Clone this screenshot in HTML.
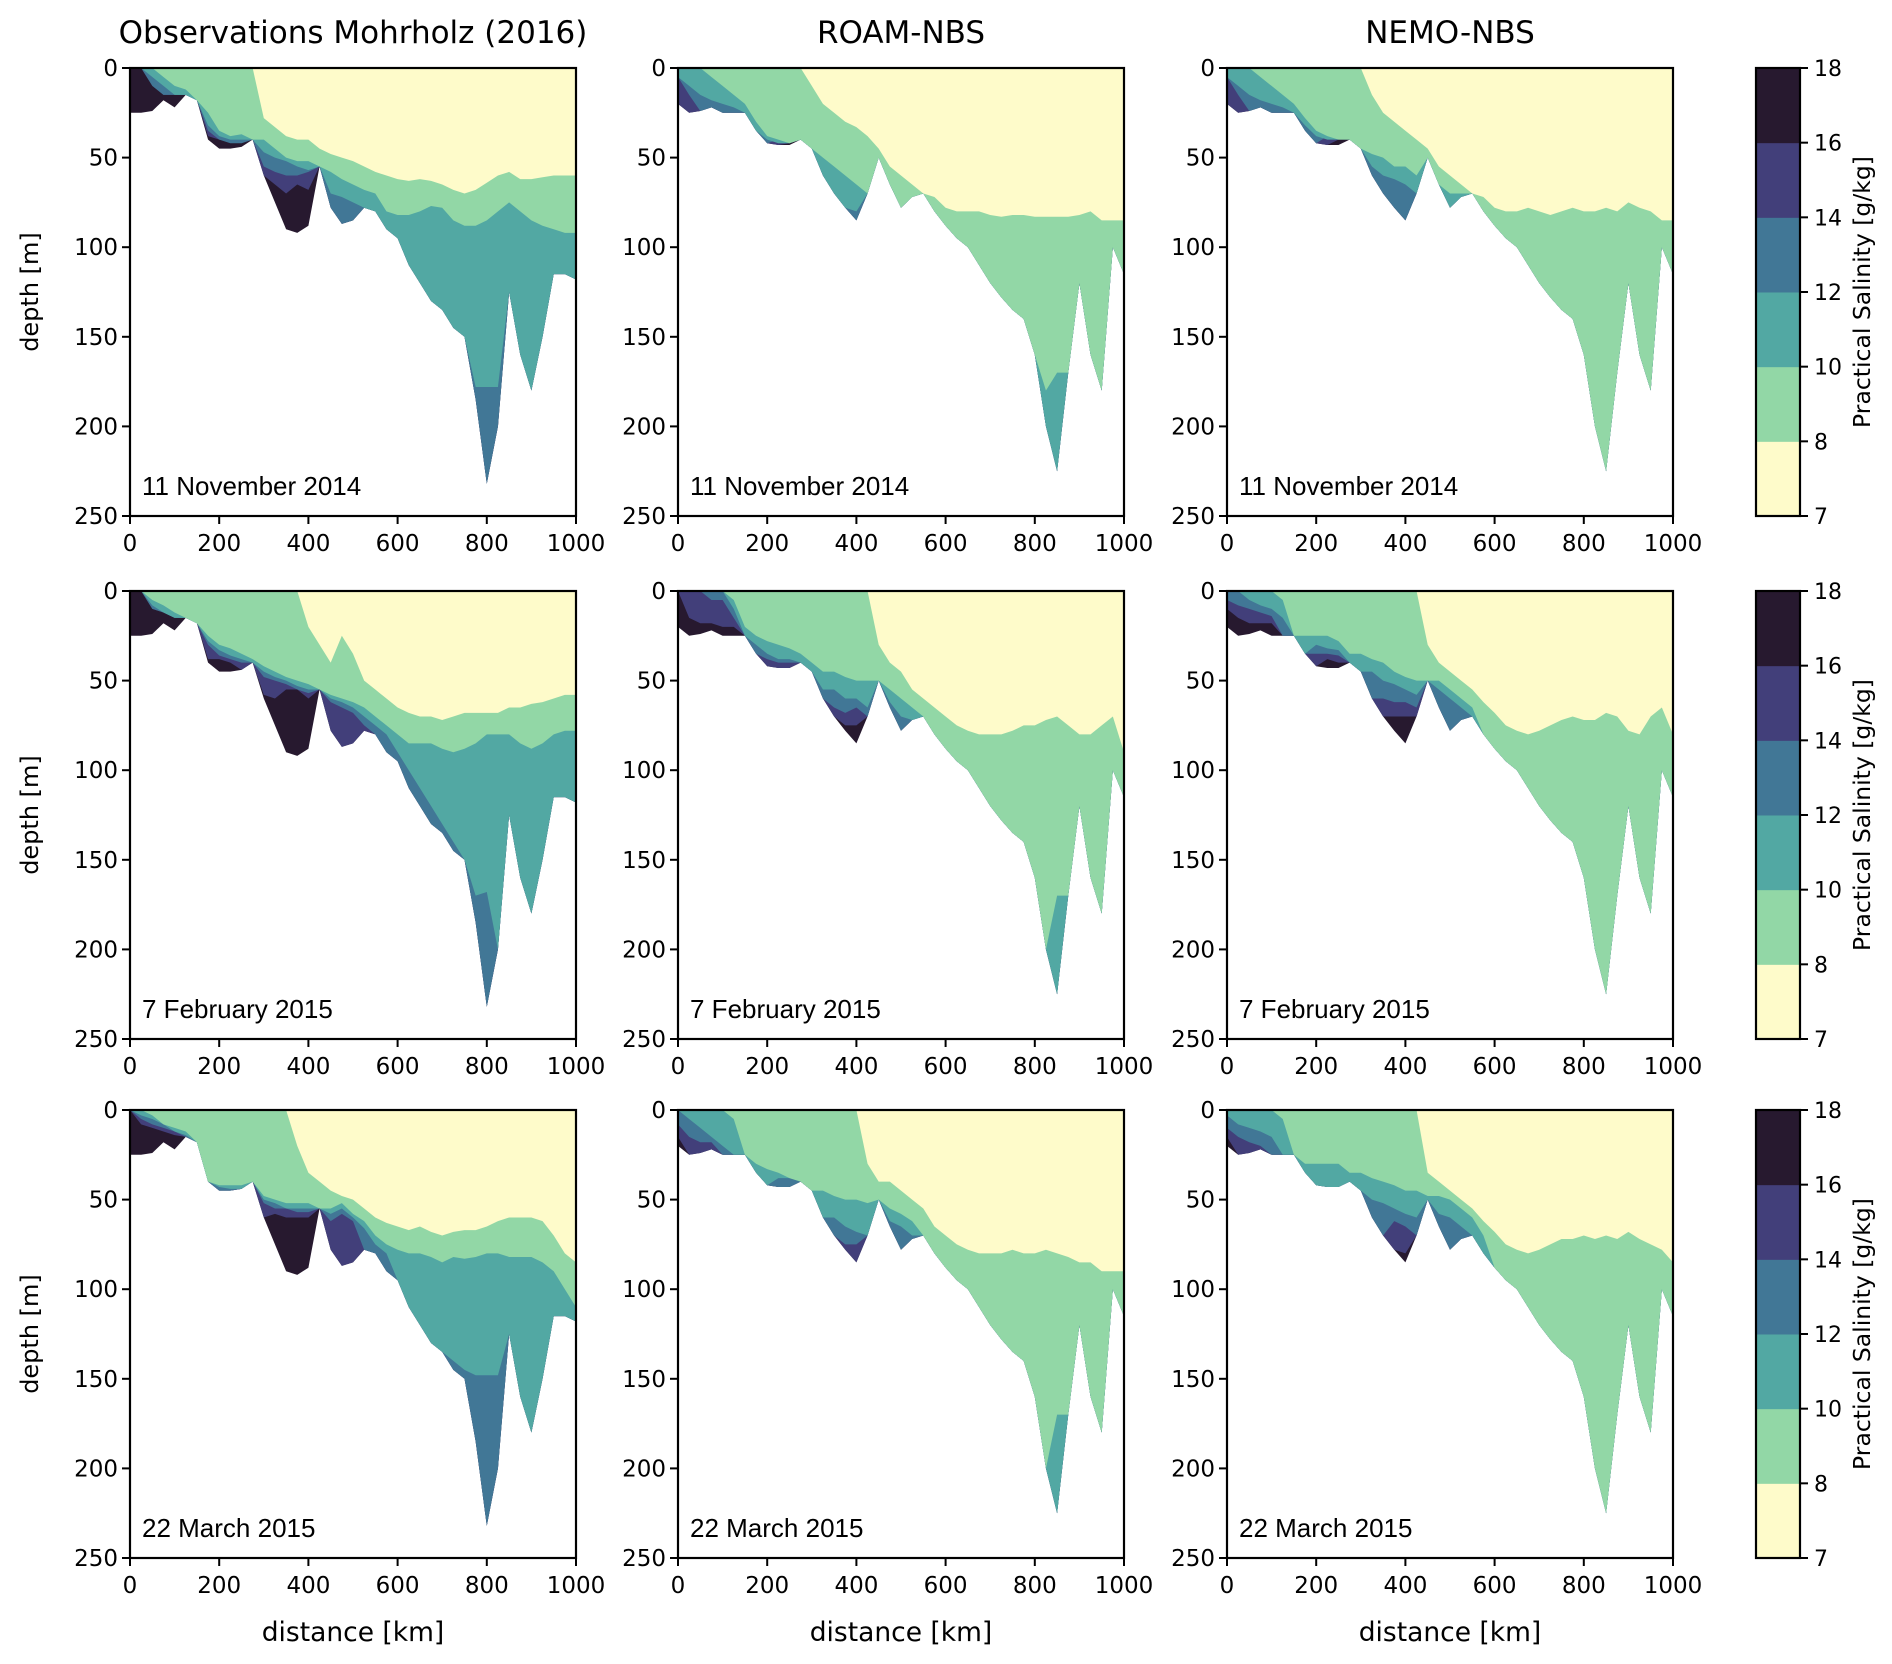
<!DOCTYPE html>
<html><head><meta charset="utf-8"><style>
html,body{margin:0;padding:0;background:#fff}
svg{display:block;font-family:"DejaVu Sans","Liberation Sans",sans-serif}
</style></head><body>
<svg id="fig" width="1892" height="1664" viewBox="0 0 1892 1664" xmlns="http://www.w3.org/2000/svg"></svg>
<script>
const distances=[0,25,50,75,100,125,150,175,200,225,250,275,300,325,350,375,400,425,450,475,500,525,550,575,600,625,650,675,700,725,750,775,800,825,850,875,900,925,950,975,1000];
const levels=[7,8,10,12,14,16,18];
const colors=["#fefbca","#92d7a6","#52a8a3","#417796","#423f7a","#27192f"];
const dates=["11 November 2014","7 February 2015","22 March 2015"];
const titles=["Observations Mohrholz (2016)","ROAM-NBS","NEMO-NBS"];
const yTicks=[0,50,100,150,200,250];
const xTicks=[0,200,400,600,800,1000];
const N=999;
const bottomObs=[25,25,24,18,22,15,18,40,45,45,44,40,60,75,90,92,88,55,78,87,85,78,80,90,95,110,120,130,135,145,150,185,232,200,125,160,180,150,115,115,118];
const bottomModel=[20,25,24,22,25,25,25,35,42,43,43,40,45,60,70,78,85,70,50,65,78,72,70,80,88,95,100,110,120,128,135,140,160,200,225,170,120,160,180,100,115];
const obsNov=[
[0,0,0,0,0,0,0,0,0,0,0,0,28,33,38,40,40,45,48,50,52,55,58,60,62,63,62,63,65,68,70,68,64,60,58,62,62,61,60,60,60],
[0,0,0,5,10,12,20,25,35,38,37,40,40,45,50,52,52,55,58,62,65,68,70,80,82,82,80,77,78,85,88,88,85,80,75,80,85,88,90,92,92],
[0,0,5,10,15,15,25,32,38,40,40,40,47,50,52,55,57,60,70,72,75,80,85,N,N,N,N,N,N,N,N,178,178,178,N,N,N,N,N,N,N],
[0,0,10,15,15,15,28,35,40,42,42,42,55,58,60,60,58,65,N,N,N,N,N,N,N,N,N,N,N,N,N,N,N,N,N,N,N,N,N,N,N],
[0,0,10,15,15,15,N,38,40,40,40,40,62,65,70,65,68,N,N,N,N,N,N,N,N,N,N,N,N,N,N,N,N,N,N,N,N,N,N,N,N]];
const roamNov=[
[0,0,0,0,0,0,0,0,0,0,0,0,10,20,25,30,33,38,45,55,60,65,70,72,78,80,80,80,82,83,82,82,83,83,83,83,82,80,85,85,85],
[0,0,0,5,10,15,20,30,38,40,42,45,48,50,55,60,65,70,N,N,N,N,N,N,N,N,N,N,N,N,N,N,N,180,170,N,N,N,N,N,N],
[5,10,15,18,20,22,25,35,40,42,42,N,N,N,N,N,80,N,N,N,N,N,N,N,N,N,N,N,N,N,N,N,N,N,N,N,N,N,N,N,N],
[5,15,N,N,N,N,N,N,N,40,40,N,N,N,N,N,N,N,N,N,N,N,N,N,N,N,N,N,N,N,N,N,N,N,N,N,N,N,N,N,N],
[N,N,N,N,N,N,N,N,N,N,42,N,N,N,N,N,N,N,N,N,N,N,N,N,N,N,N,N,N,N,N,N,N,N,N,N,N,N,N,N,N]];
const nemoNov=[
[0,0,0,0,0,0,0,0,0,0,0,0,0,15,25,30,35,40,45,55,60,65,70,72,78,80,80,78,80,82,80,78,80,80,78,80,75,78,80,85,85],
[0,0,0,5,10,15,20,28,35,38,40,42,45,48,50,55,55,60,62,65,70,70,N,N,N,N,N,N,N,N,N,N,N,N,N,N,N,N,N,N,N],
[5,10,15,18,20,22,25,32,38,40,40,42,N,55,60,62,65,70,N,N,N,N,N,N,N,N,N,N,N,N,N,N,N,N,N,N,N,N,N,N,N],
[5,15,N,N,N,N,N,N,N,38,38,40,N,N,N,N,N,N,N,N,N,N,N,N,N,N,N,N,N,N,N,N,N,N,N,N,N,N,N,N,N],
[N,N,N,N,N,N,N,N,N,N,40,N,N,N,N,N,N,N,N,N,N,N,N,N,N,N,N,N,N,N,N,N,N,N,N,N,N,N,N,N,N]];
const obsFeb=[
[0,0,0,0,0,0,0,0,0,0,0,0,0,0,0,0,20,30,40,25,35,50,55,60,65,68,70,70,72,70,68,68,68,68,65,65,63,62,60,58,58],
[0,0,5,8,12,15,20,25,30,32,35,38,42,45,48,50,52,55,58,60,62,65,70,75,80,85,85,85,88,90,88,85,80,80,80,85,88,85,80,78,78],
[0,0,8,12,15,18,22,28,33,36,38,42,45,48,50,53,55,58,60,62,65,70,75,80,90,100,110,120,130,140,160,170,168,N,N,N,N,N,N,N,N],
[0,0,10,12,15,20,25,30,36,38,40,45,48,50,52,55,57,60,62,65,68,75,N,N,N,N,N,N,N,N,N,N,N,N,N,N,N,N,N,N,N],
[0,0,10,12,15,N,N,38,38,40,N,N,58,60,55,55,60,N,N,N,N,N,N,N,N,N,N,N,N,N,N,N,N,N,N,N,N,N,N,N,N]];
const roamFeb=[
[0,0,0,0,0,0,0,0,0,0,0,0,0,0,0,0,0,0,30,40,45,55,60,65,70,75,78,80,80,80,78,75,75,72,70,75,80,80,75,70,90],
[0,0,0,0,0,5,20,25,28,30,32,35,40,45,45,48,50,50,55,55,60,65,70,N,N,N,N,N,N,N,N,N,N,N,170,N,N,N,N,N,N],
[0,0,0,0,0,10,25,30,35,38,38,40,N,55,55,60,60,65,70,62,70,75,80,N,N,N,N,N,N,N,N,N,N,N,N,N,N,N,N,N,N],
[0,0,0,5,5,15,N,N,38,40,40,N,N,N,65,68,65,75,N,N,N,N,N,N,N,N,N,N,N,N,N,N,N,N,N,N,N,N,N,N,N],
[0,15,18,18,20,20,N,N,N,N,N,N,N,N,N,75,75,N,N,N,N,N,N,N,N,N,N,N,N,N,N,N,N,N,N,N,N,N,N,N,N]];
const nemoFeb=[
[0,0,0,0,0,0,0,0,0,0,0,0,0,0,0,0,0,0,30,40,45,50,55,62,68,75,78,80,78,75,72,70,72,72,68,70,78,80,70,65,80],
[0,0,0,0,0,5,25,25,25,25,28,35,35,38,40,45,48,50,52,50,55,60,65,N,N,N,N,N,N,N,N,N,N,N,N,N,N,N,N,N,N],
[0,0,5,8,10,15,N,N,30,32,33,N,N,45,50,52,55,58,60,55,60,65,70,N,N,N,N,N,N,N,N,N,N,N,N,N,N,N,N,N,N],
[5,8,10,12,14,N,N,N,35,35,36,N,N,N,60,62,62,65,N,N,N,N,N,N,N,N,N,N,N,N,N,N,N,N,N,N,N,N,N,N,N],
[10,15,18,18,18,N,N,N,N,38,40,N,N,N,N,70,70,80,N,N,N,N,N,N,N,N,N,N,N,N,N,N,N,N,N,N,N,N,N,N,N]];
const obsMar=[
[0,0,0,0,0,0,0,0,0,0,0,0,0,0,0,20,35,40,45,48,50,55,60,63,65,67,65,68,70,68,67,67,65,62,60,60,60,62,70,80,85],
[0,0,3,8,10,12,40,42,42,42,42,42,48,50,52,52,52,55,55,52,58,62,70,75,78,80,80,82,85,82,83,82,80,80,82,82,82,85,90,100,110],
[0,3,5,8,12,14,N,N,43,44,44,46,50,52,55,55,55,57,58,55,60,66,75,80,95,110,125,130,135,140,145,148,148,148,N,N,N,N,N,N,N],
[0,5,8,10,12,15,N,N,N,N,N,N,52,55,55,57,57,60,62,58,62,N,N,N,N,N,N,N,N,N,N,N,N,N,N,N,N,N,N,N,N],
[0,8,10,12,14,N,N,N,N,N,N,N,N,58,60,60,60,N,N,N,N,N,N,N,N,N,N,N,N,N,N,N,N,N,N,N,N,N,N,N,N]];
const roamMar=[
[0,0,0,0,0,0,0,0,0,0,0,0,0,0,0,0,0,30,40,40,45,50,55,65,70,75,78,80,80,80,78,80,80,78,80,82,85,85,90,90,90],
[0,0,0,0,0,5,25,30,33,35,38,40,45,45,48,50,50,52,50,55,58,62,70,N,N,N,N,N,N,N,N,N,N,N,170,N,N,N,N,N,N],
[0,5,10,15,20,N,N,N,N,38,38,40,N,N,60,65,68,70,N,62,65,70,80,N,N,N,N,N,N,N,N,N,N,N,N,N,N,N,N,N,N],
[8,15,18,18,N,N,N,N,N,N,N,N,N,N,N,75,75,N,N,N,N,N,N,N,N,N,N,N,N,N,N,N,N,N,N,N,N,N,N,N,N],
[15,N,N,N,N,N,N,N,N,N,N,N,N,N,N,N,85,N,N,N,N,N,N,N,N,N,N,N,N,N,N,N,N,N,N,N,N,N,N,N,N]];
const nemoMar=[
[0,0,0,0,0,0,0,0,0,0,0,0,0,0,0,0,0,0,35,40,45,50,55,62,68,75,78,80,78,75,72,72,70,72,70,72,68,72,75,78,85],
[0,0,0,0,0,5,25,30,30,30,30,35,35,38,40,42,45,45,48,48,50,55,60,70,N,N,N,N,N,N,N,N,N,205,N,N,N,N,N,N,N],
[3,8,10,12,15,N,N,N,N,N,N,N,N,50,52,55,58,60,N,58,60,65,70,N,N,N,N,N,N,N,N,N,N,N,N,N,N,N,N,N,N],
[10,15,18,20,N,N,N,N,N,N,N,N,N,N,N,62,65,70,N,N,N,N,N,N,N,N,N,N,N,N,N,N,N,N,N,N,N,N,N,N,N],
[15,N,N,N,N,N,N,N,N,N,N,N,N,N,N,N,80,N,N,N,N,N,N,N,N,N,N,N,N,N,N,N,N,N,N,N,N,N,N,N,N]];

const panels=[[obsNov,roamNov,nemoNov],[obsFeb,roamFeb,nemoFeb],[obsMar,roamMar,nemoMar]];
const colX=[130,678,1227], rowY=[68,591,1110], PW=446, PH=448;
const cbX=1756, cbW=44;
const NS="http://www.w3.org/2000/svg";
const svg=document.getElementById('fig');
function mk(tag,attrs,parent){const e=document.createElementNS(NS,tag);for(const k in attrs)e.setAttribute(k,attrs[k]);(parent||svg).appendChild(e);return e;}

for(let r=0;r<3;r++){
 for(let c=0;c<3;c++){
  const x0=colX[c], y0=rowY[r];
  const sx=d=>x0+d/1000*PW, sy=z=>y0+z/250*PH;
  const g=mk('g',{});
  
  
  const bottom=c===0?bottomObs:bottomModel;
  const iso=panels[r][c];
  const order=[[null,5],[4,4],[3,3],[2,2],[1,1],[0,0]];
  for(const [k,col] of order){
    let top=distances.map(d=>sx(d)+','+sy(0));
    let bot=[];
    for(let i=distances.length-1;i>=0;i--){
      const z=k===null?bottom[i]:Math.min(iso[k][i],bottom[i]);
      bot.push(sx(distances[i])+','+sy(z));
    }
    const p=mk('polygon',{points:top.concat(bot).join(' '),fill:colors[col],stroke:'none'},g);
    
    
  }
  const fr=mk('rect',{x:x0,y:y0,width:PW,height:PH,fill:'none',stroke:'#000','stroke-width':2.2},g);
  
  
  yTicks.forEach(t=>{
    mk('line',{x1:x0-8,x2:x0,y1:sy(t),y2:sy(t),stroke:'#000','stroke-width':2},g);
    const tx=mk('text',{x:x0-12,y:sy(t)+8,'text-anchor':'end','font-size':23},g);
    tx.textContent=t;
    
    
  });
  xTicks.forEach(t=>{
    mk('line',{x1:sx(t),x2:sx(t),y1:y0+PH,y2:y0+PH+8,stroke:'#000','stroke-width':2},g);
    const tx=mk('text',{x:sx(t),y:y0+PH+35,'text-anchor':'middle','font-size':23},g);
    tx.textContent=t;
    
    
  });
  const dl=mk('text',{x:x0+12,y:y0+PH-21,'font-size':26,'font-family':'Liberation Sans, sans-serif'},g);
  dl.textContent=dates[r];
  
  
  if(c===0){
    const yl=mk('text',{x:38,y:y0+PH/2,'text-anchor':'middle','font-size':24,transform:'rotate(-90 38 '+(y0+PH/2)+')'},g);
    yl.textContent='depth [m]';
    
    
  }
  if(r===0){
    const tt=mk('text',{x:x0+PW/2,y:43,'text-anchor':'middle','font-size':31},g);
    tt.textContent=titles[c];
    
    
  }
  if(r===2){
    const xl=mk('text',{x:x0+PW/2,y:1641,'text-anchor':'middle','font-size':26.5},g);
    xl.textContent='distance [km]';
    
    
  }
 }
 const y0=rowY[r];
 const cb=mk('g',{});
 
 
 const segH=PH/(levels.length-1);
 for(let i=0;i<levels.length-1;i++){
   const rr=mk('rect',{x:cbX,y:y0+PH-(i+1)*segH,width:cbW,height:segH+0.5,fill:colors[i]},cb);
   
   
 }
 mk('rect',{x:cbX,y:y0,width:cbW,height:PH,fill:'none',stroke:'#000','stroke-width':2.2},cb);
 levels.forEach((v,i)=>{
   const yy=y0+PH-i*segH;
   mk('line',{x1:cbX+cbW,x2:cbX+cbW+8,y1:yy,y2:yy,stroke:'#000','stroke-width':2},cb);
   const tx=mk('text',{x:cbX+cbW+14,y:yy+8,'font-size':22},cb);
   tx.textContent=v;
   
   
 });
 const cl=mk('text',{x:1870,y:y0+PH/2,'text-anchor':'middle','font-size':23.5,transform:'rotate(-90 1870 '+(y0+PH/2)+')'},cb);
 cl.textContent='Practical Salinity [g/kg]';
 
 
}
</script>
</body></html>
